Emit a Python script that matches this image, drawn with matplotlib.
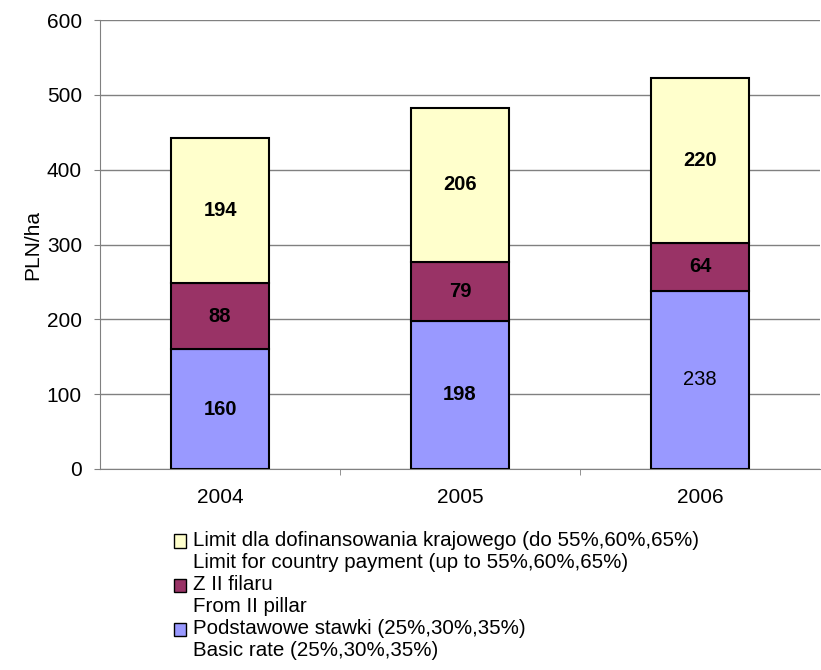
import matplotlib
matplotlib.use("Agg")
import matplotlib.pyplot as plt
import numpy as np

# dane z wykresu
years = ["2004", "2005", "2006"]
basic_rate = [160, 198, 238]
second_pillar = [88, 79, 64]
country_limit = [194, 206, 220]

labels = [
    "Podstawowe stawki (25%,30%,35%)\nBasic rate (25%,30%,35%)",
    "Z II filaru\nFrom II pillar",
    "Limit dla dofinansowania krajowego (do 55%,60%,65%)\nLimit for country payment (up to 55%,60%,65%)",
]
colors = ["#9999ff", "#993366", "#ffffcc"]

plt.rcParams["font.family"] = ["Liberation Sans", "DejaVu Sans"]

fig = plt.figure(figsize=(8.21, 6.7), dpi=100)
ax = fig.add_axes([0.1218, 0.30, 0.877, 0.670])

x = np.arange(len(years))
width = 0.405
series = [basic_rate, second_pillar, country_limit]
bottom = np.zeros(len(years))
handles = []
for vals, col, lab in zip(series, colors, labels):
    bars = ax.bar(x, vals, width, bottom=bottom, color=col, edgecolor="black",
                  linewidth=1.5, label=lab, zorder=3)
    handles.append(bars)
    for i, v in enumerate(vals):
        # 238 nie jest pogrubione na oryginale
        weight = "normal" if (col == colors[0] and i == 2) else "bold"
        ax.text(x[i], bottom[i] + v / 2, str(v), ha="center", va="center",
                fontsize=14.5, fontweight=weight, zorder=4)
    bottom += np.array(vals)

ax.set_xlim(-0.5, 2.5)
ax.set_ylim(0, 600)
ax.set_yticks(range(0, 601, 100))
ax.yaxis.grid(True, color="#808080", linewidth=1, zorder=0)
ax.set_xticks(x)
ax.set_xticklabels(years)
ax.tick_params(axis="x", length=0, labelsize=15, pad=14)
ax.set_xticks([0.5, 1.5], minor=True)
ax.tick_params(axis="x", which="minor", length=4, color="#808080")
ax.tick_params(axis="y", labelsize=15, length=4, pad=9, color="#808080", direction="out")
ax.set_ylabel("PLN/ha", fontsize=15, labelpad=3)

for s in ["top", "right"]:
    ax.spines[s].set_visible(False)
for s in ["left", "bottom"]:
    ax.spines[s].set_color("#808080")

leg = fig.legend(handles=handles[::-1], labels=labels[::-1], loc="upper left",
                 bbox_to_anchor=(0.212, 0.208), frameon=False, fontsize=14.8,
                 handlelength=0.6, handleheight=0.6, handletextpad=0.3,
                 labelspacing=0.15, borderpad=0, borderaxespad=0)
for t in leg.get_texts():
    t.set_linespacing(1.2)
for h in leg.legend_handles:
    h.set_linewidth(1.0)
    h.set_y(8)

fig.savefig("out.png", dpi=100)
plt.close(fig)
